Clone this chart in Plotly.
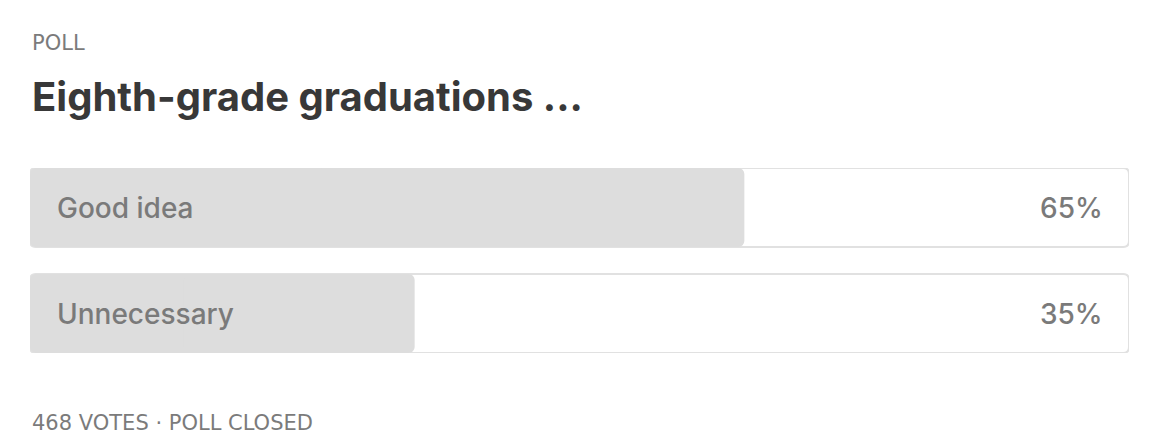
import plotly.graph_objects as go

# ---- data ----
options = ["Good idea", "Unnecessary"]
percents = [65, 35]
kicker = "POLL"
title = "Eighth-grade graduations ..."
footer = "468 VOTES · POLL CLOSED"

# page body has an 8px default margin -> shrink figure so pixels line up
W, H = 1162, 430
ML, MR, MT, MB = 22, 41, 160, 85
plot_h = H - MT - MB  # 185
pitch = 106.0
bar_px = 79.0
half = (bar_px / 2) / pitch
y_top = -(39.5 / pitch)
y_bot = (len(options) - 1) + 39.5 / pitch
bar_w = bar_px / pitch

FILL = "#dddddd"
FRAME = "#e1e1e1"
TXT = "#7a7a7a"
FONT = "Inter, Roboto, 'Liberation Sans', sans-serif"
SMALL_FONT = "'DejaVu Sans', Inter, sans-serif"

fig = go.Figure()
ypos = list(range(len(options)))

# filled portion drawn as two overlapping pieces so both ends get rounded corners
fig.add_trace(go.Bar(
    y=ypos, x=[-0.6 * p for p in percents], base=[0.6 * p for p in percents],
    orientation="h", width=bar_w,
    marker=dict(color=FILL, line=dict(width=0), cornerradius=6),
    hoverinfo="skip", showlegend=False))
fig.add_trace(go.Bar(
    y=ypos, x=[0.6 * p for p in percents], base=[0.4 * p for p in percents],
    orientation="h", width=bar_w,
    marker=dict(color=FILL, line=dict(width=0), cornerradius=6),
    hoverinfo="skip", showlegend=False))

# rounded frames as shapes in data coordinates
rx = 6 * 100 / (W - ML - MR)
ry = 6 / pitch
shapes = []
for i in ypos:
    x0, x1 = 0, 100
    y0, y1 = i - half, i + half
    path = (f"M {x0+rx},{y0} L {x1-rx},{y0} Q {x1},{y0} {x1},{y0+ry} "
            f"L {x1},{y1-ry} Q {x1},{y1} {x1-rx},{y1} L {x0+rx},{y1} "
            f"Q {x0},{y1} {x0},{y1-ry} L {x0},{y0+ry} Q {x0},{y0} {x0+rx},{y0} Z")
    shapes.append(dict(type="path", path=path, xref="x", yref="y",
                       line=dict(color=FRAME, width=2), fillcolor="white",
                       layer="below"))

annotations = []
for i, (lab, p) in enumerate(zip(options, percents)):
    annotations.append(dict(x=0, y=i, xref="x", yref="y", text=lab, showarrow=False,
                            xanchor="left", yanchor="middle", xshift=25,
                            font=dict(family=FONT, size=28, color=TXT, weight=500)))
    annotations.append(dict(x=100, y=i, xref="x", yref="y", text=f"{p}%", showarrow=False,
                            xanchor="right", yanchor="middle", xshift=-24,
                            font=dict(family=FONT, size=28, color=TXT, weight=500)))

def py(px):
    # px measured in window pixels; figure starts 8px down
    return (H - MB - (px - 8)) / plot_h

annotations.append(dict(x=0, y=py(43), xref="paper", yref="paper", text=kicker,
                        showarrow=False, xanchor="left", yanchor="middle",
                        font=dict(family=SMALL_FONT, size=21, color="#7b7b7b")))
annotations.append(dict(x=0, y=py(96), xref="paper", yref="paper", text=title,
                        showarrow=False, xanchor="left", yanchor="middle",
                        font=dict(family=FONT, size=40, color="#383838", weight=700)))
annotations.append(dict(x=0, y=py(423), xref="paper", yref="paper", text=footer,
                        showarrow=False, xanchor="left", yanchor="middle",
                        font=dict(family=SMALL_FONT, size=21, color="#7b7b7b")))

fig.update_layout(
    width=W, height=H, margin=dict(l=ML, r=MR, t=MT, b=MB, pad=0),
    paper_bgcolor="white", plot_bgcolor="white",
    barmode="overlay", shapes=shapes, annotations=annotations,
    xaxis=dict(range=[0, 100], visible=False, fixedrange=True),
    yaxis=dict(range=[y_bot, y_top], visible=False, fixedrange=True),
)

fig.write_html("out.html", config={"displayModeBar": False})
